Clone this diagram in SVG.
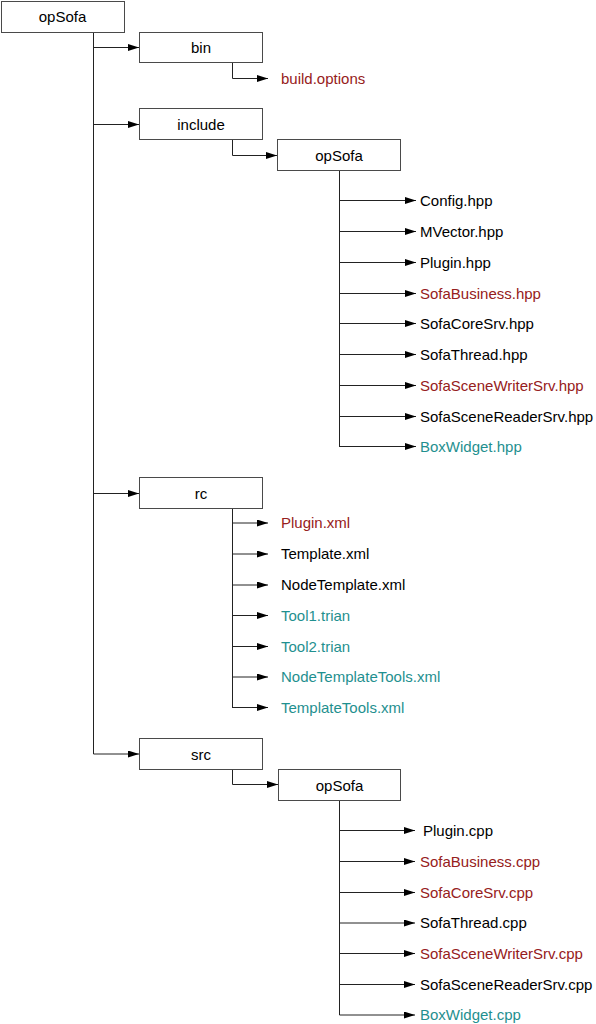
<svg xmlns="http://www.w3.org/2000/svg" width="596" height="1024" viewBox="0 0 596 1024">
<style>
.box{fill:#fff;stroke:#4a4a4a;stroke-width:1}
.lbl{font-family:"Liberation Sans",Arial,sans-serif;font-size:15px;fill:#000}
.c{text-anchor:middle}
.red{fill:#962020}
.teal{fill:#1f908f}
.ln{fill:none;stroke:#222;stroke-width:1}
</style>
<defs>
<marker id="ah" markerUnits="userSpaceOnUse" markerWidth="11" markerHeight="8" refX="11" refY="3.5" orient="auto">
<path d="M0,0 L11,3.5 L0,7 z" fill="#000"/>
</marker>
</defs>
<g id="connectors">
<path class="ln" d="M93.5,32 V754"/>
<path class="ln" marker-end="url(#ah)" d="M93.5,47.5 H139"/>
<path class="ln" marker-end="url(#ah)" d="M93.5,124.5 H139"/>
<path class="ln" marker-end="url(#ah)" d="M93.5,493.5 H139"/>
<path class="ln" marker-end="url(#ah)" d="M93.5,754 H139"/>
<path class="ln" marker-end="url(#ah)" d="M232.5,62 V78.5 H268"/>
<path class="ln" marker-end="url(#ah)" d="M232.5,139 V155.5 H277"/>
<path class="ln" d="M339.5,170 V447"/>
<path class="ln" marker-end="url(#ah)" d="M339.5,200.5 H416"/>
<path class="ln" marker-end="url(#ah)" d="M339.5,231.5 H416"/>
<path class="ln" marker-end="url(#ah)" d="M339.5,262.5 H416"/>
<path class="ln" marker-end="url(#ah)" d="M339.5,293.5 H416"/>
<path class="ln" marker-end="url(#ah)" d="M339.5,323.5 H416"/>
<path class="ln" marker-end="url(#ah)" d="M339.5,354.5 H416"/>
<path class="ln" marker-end="url(#ah)" d="M339.5,385.5 H416"/>
<path class="ln" marker-end="url(#ah)" d="M339.5,416.5 H416"/>
<path class="ln" marker-end="url(#ah)" d="M339.5,446.5 H416"/>
<path class="ln" d="M232.5,508 V708"/>
<path class="ln" marker-end="url(#ah)" d="M232.5,523 H268"/>
<path class="ln" marker-end="url(#ah)" d="M232.5,554 H268"/>
<path class="ln" marker-end="url(#ah)" d="M232.5,585 H268"/>
<path class="ln" marker-end="url(#ah)" d="M232.5,615.5 H268"/>
<path class="ln" marker-end="url(#ah)" d="M232.5,646.5 H268"/>
<path class="ln" marker-end="url(#ah)" d="M232.5,677 H268"/>
<path class="ln" marker-end="url(#ah)" d="M232.5,707.5 H268"/>
<path class="ln" marker-end="url(#ah)" d="M232.5,769 V784.5 H278"/>
<path class="ln" d="M339.5,800 V1015"/>
<path class="ln" marker-end="url(#ah)" d="M339.5,830.5 H415"/>
<path class="ln" marker-end="url(#ah)" d="M339.5,861.5 H415"/>
<path class="ln" marker-end="url(#ah)" d="M339.5,892.5 H415"/>
<path class="ln" marker-end="url(#ah)" d="M339.5,923 H415"/>
<path class="ln" marker-end="url(#ah)" d="M339.5,953.5 H415"/>
<path class="ln" marker-end="url(#ah)" d="M339.5,984.5 H415"/>
<path class="ln" marker-end="url(#ah)" d="M339.5,1015 H415"/>
</g>
<g id="root"><rect class="box" x="1.5" y="1.5" width="123" height="31"/><text class="lbl c" x="62.5" y="22">opSofa</text></g>
<g id="bin"><rect class="box" x="139.5" y="32.5" width="123" height="30"/><text class="lbl c" x="201" y="52.5">bin</text></g>
<g id="build-options"><text class="lbl red" x="281" y="83.5">build.options</text></g>
<g id="include"><rect class="box" x="139.5" y="108.5" width="123" height="31"/><text class="lbl c" x="201" y="129.5">include</text></g>
<g id="include-opSofa"><rect class="box" x="277.5" y="139.5" width="123" height="31"/><text class="lbl c" x="339" y="160.5">opSofa</text></g>
<g id="config-hpp"><text class="lbl" x="420" y="205.5">Config.hpp</text></g>
<g id="mvector-hpp"><text class="lbl" x="420" y="236.5">MVector.hpp</text></g>
<g id="plugin-hpp"><text class="lbl" x="420" y="267.5">Plugin.hpp</text></g>
<g id="sofabusiness-hpp"><text class="lbl red" x="420" y="298.5">SofaBusiness.hpp</text></g>
<g id="sofacoresrv-hpp"><text class="lbl" x="420" y="328.5">SofaCoreSrv.hpp</text></g>
<g id="sofathread-hpp"><text class="lbl" x="420" y="359.5">SofaThread.hpp</text></g>
<g id="sofascenewritersrv-hpp"><text class="lbl red" x="420" y="390.5">SofaSceneWriterSrv.hpp</text></g>
<g id="sofascenereadersrv-hpp"><text class="lbl" x="420" y="421.5">SofaSceneReaderSrv.hpp</text></g>
<g id="boxwidget-hpp"><text class="lbl teal" x="420" y="451.5">BoxWidget.hpp</text></g>
<g id="rc"><rect class="box" x="139.5" y="477.5" width="123" height="31"/><text class="lbl c" x="201" y="498.5">rc</text></g>
<g id="plugin-xml"><text class="lbl red" x="281" y="528">Plugin.xml</text></g>
<g id="template-xml"><text class="lbl" x="281" y="559">Template.xml</text></g>
<g id="nodetemplate-xml"><text class="lbl" x="281" y="590">NodeTemplate.xml</text></g>
<g id="tool1-trian"><text class="lbl teal" x="281" y="620.5">Tool1.trian</text></g>
<g id="tool2-trian"><text class="lbl teal" x="281" y="651.5">Tool2.trian</text></g>
<g id="nodetemplatetools-xml"><text class="lbl teal" x="281" y="682">NodeTemplateTools.xml</text></g>
<g id="templatetools-xml"><text class="lbl teal" x="281" y="712.5">TemplateTools.xml</text></g>
<g id="src"><rect class="box" x="139.5" y="738.5" width="123" height="31"/><text class="lbl c" x="201" y="759.5">src</text></g>
<g id="src-opSofa"><rect class="box" x="278.5" y="769.5" width="122" height="31"/><text class="lbl c" x="339.5" y="790.5">opSofa</text></g>
<g id="plugin-cpp"><text class="lbl" x="423" y="835.5">Plugin.cpp</text></g>
<g id="sofabusiness-cpp"><text class="lbl red" x="420" y="866.5">SofaBusiness.cpp</text></g>
<g id="sofacoresrv-cpp"><text class="lbl red" x="420" y="897.5">SofaCoreSrv.cpp</text></g>
<g id="sofathread-cpp"><text class="lbl" x="420" y="928">SofaThread.cpp</text></g>
<g id="sofascenewritersrv-cpp"><text class="lbl red" x="420" y="958.5">SofaSceneWriterSrv.cpp</text></g>
<g id="sofascenereadersrv-cpp"><text class="lbl" x="420" y="989.5">SofaSceneReaderSrv.cpp</text></g>
<g id="boxwidget-cpp"><text class="lbl teal" x="420" y="1020">BoxWidget.cpp</text></g>
</svg>
